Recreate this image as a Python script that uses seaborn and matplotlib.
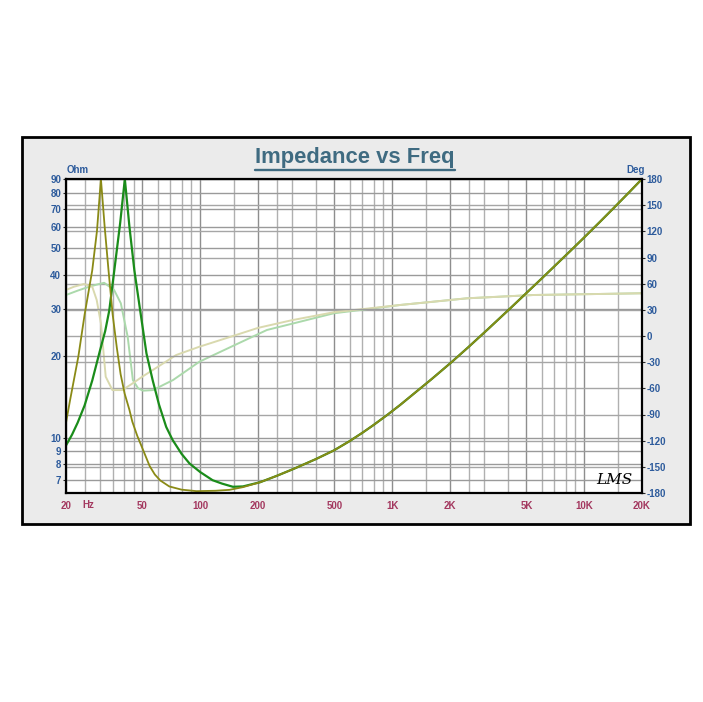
import matplotlib
matplotlib.use('Agg')
import matplotlib.pyplot as plt
import seaborn as sns
import pandas as pd
from matplotlib.patches import Rectangle
from matplotlib.lines import Line2D
from matplotlib.ticker import FixedLocator, NullFormatter, NullLocator

# ---------------- data ----------------
# shared high-frequency rise of both impedance curves
freq_hi = [205, 250, 306, 400, 497, 600, 700, 800, 946, 1100, 1306, 1600, 2029, 2500, 3156, 4138,
           5000, 5961, 7000, 8500, 10000, 12000, 14100, 17000, 20000]
imp_hi = [6.88, 7.26, 7.70, 8.37, 9.01, 9.75, 10.47, 11.18, 12.20, 13.25, 14.64, 16.47, 19.0, 21.67,
          25.21, 30.15, 34.23, 38.51, 42.96, 49.02, 54.84, 62.30, 69.86, 79.93, 90.0]

freq_a = [20, 21, 23.2, 25, 27.4, 29.0, 30.4, 31.8, 33.3, 35.0, 36.8, 38.5, 40.4, 42.8, 44.3, 47, 49,
          54.5, 58, 62, 69, 80, 95.5, 120, 142, 167] + freq_hi
imp_a = [11.4, 13.8, 20, 28.5, 41.5, 58, 90, 60, 41.5, 28.5, 21.5, 17.2, 14.6, 12.7, 11.5, 10.2, 9.5,
         7.9, 7.35, 6.98, 6.64, 6.46, 6.38, 6.4, 6.45, 6.6] + imp_hi

freq_b = [20, 21.5, 23, 25, 27.4, 30, 32, 33.6, 35.7, 38.3, 40.5, 42.8, 45.4, 49, 52.5, 56.6, 61, 66.5,
          71.8, 80, 87.9, 100, 116, 130, 148, 167] + freq_hi
imp_b = [9.4, 10.3, 11.4, 13.2, 16.3, 20.9, 24.8, 29.5, 41.5, 62, 90, 60, 41.5, 28.6, 20.5, 16.3, 13.3,
         11.0, 9.85, 8.75, 8.07, 7.5, 7.0, 6.8, 6.62, 6.64] + imp_hi

freq_pa = [20, 22, 24.8, 27.4, 28.9, 30.4, 32.2, 34.9, 39.3, 44, 49.9, 60, 75, 99, 112.6, 150, 200,
           300, 495, 700, 1105, 1600, 2447, 3500, 5436, 10000, 20000]
phase_a = [52.8, 56.5, 59.6, 56.5, 41.3, 14.5, -46.7, -62, -62, -55, -46.7, -35.5, -21.8, -12.3, -8.4,
           0.4, 9.3, 18.1, 27.2, 30.8, 35.6, 39.1, 43.2, 44.9, 47, 47.9, 49]

freq_pb = [20, 23, 26.4, 29, 31.6, 35.6, 38.6, 41.9, 44.6, 47.5, 50.4, 56.8, 63, 72.2, 99, 112.6, 150,
           222.6, 300, 495, 700, 1105, 1600, 2447, 3500, 5436, 10000, 20000]
phase_b = [47, 52, 56.5, 59, 61, 52.8, 37.5, -0.8, -50.5, -60, -62.7, -62, -57, -50.5, -29.5, -23.7,
           -10.8, 6.9, 14.0, 26, 30.1, 35.6, 39.1, 43.2, 44.9, 47, 47.9, 49]

x_major = [20, 50, 100, 200, 500, 1000, 2000, 5000, 10000, 20000]
x_labels = ['20', '50', '100', '200', '500', '1K', '2K', '5K', '10K', '20K']
x_minor = [25, 30, 35, 40, 45, 60, 70, 80, 90, 150, 250, 300, 400, 600, 700, 800, 900,
           1500, 2500, 3000, 4000, 6000, 7000, 8000, 9000, 15000]
imp_ticks = [7, 8, 9, 10, 20, 30, 40, 50, 60, 70, 80, 90]
phase_ticks = [-180, -150, -120, -90, -60, -30, 0, 30, 60, 90, 120, 150, 180]

# ---------------- style ----------------
sns.set_style('white')
plt.rcParams['font.family'] = ['Liberation Sans', 'DejaVu Sans']

W, H = 703, 702
fig = plt.figure(figsize=(W / 100, H / 100), dpi=100)
fig.patch.set_facecolor('white')

frame = Rectangle((22 / W, 1 - 524 / H), 668 / W, 387 / H, transform=fig.transFigure,
                  facecolor='#ebebeb', edgecolor='black', lw=2.0, zorder=-5)
fig.add_artist(frame)

rect = [66 / W, 1 - 493 / H, (642 - 66) / W, (493 - 179) / H]
ax = fig.add_axes(rect)
ax2 = ax.twinx()
ax.set_zorder(2)
ax.patch.set_visible(False)
ax2.set_zorder(1)
ax2.patch.set_visible(True)
ax2.patch.set_facecolor('white')

ax.set_xscale('log')
ax.set_yscale('log')

pb_df = pd.DataFrame({'freq': freq_pb, 'val': phase_b})
pa_df = pd.DataFrame({'freq': freq_pa, 'val': phase_a})
sns.lineplot(data=pb_df, x='freq', y='val', color='#abd9ab', estimator=None, sort=False,
             lw=1.4, legend=False, ax=ax2)
sns.lineplot(data=pa_df, x='freq', y='val', color='#d9d9ae', estimator=None, sort=False,
             lw=1.4, legend=False, ax=ax2)

green_df = pd.DataFrame({'freq': freq_b, 'val': imp_b})
olive_df = pd.DataFrame({'freq': freq_a, 'val': imp_a})
sns.lineplot(data=green_df, x='freq', y='val', color='#1a8c1a', estimator=None, sort=False,
             lw=1.6, legend=False, ax=ax)
sns.lineplot(data=olive_df, x='freq', y='val', color='#8a8a16', estimator=None, sort=False,
             lw=1.3, legend=False, ax=ax)

ax.set_xlim(20, 20000)
ax.set_ylim(6.28, 90)
ax2.set_ylim(-180, 180)

# x ticks / grid
ax.xaxis.set_major_locator(FixedLocator(x_major))
ax.set_xticklabels(x_labels)
ax.xaxis.set_minor_locator(FixedLocator(x_minor))
ax.xaxis.set_minor_formatter(NullFormatter())
ax.tick_params(axis='x', which='both', length=0, pad=6, labelsize=7, labelcolor='#a3385f')
for lab in ax.get_xticklabels():
    lab.set_fontweight('bold')

ax2.xaxis.set_visible(True)
ax2.tick_params(axis='x', which='both', length=0, labelbottom=False, labeltop=False)
ax2.grid(axis='x', which='major', color='#8e8e8e', lw=1.0)
ax2.grid(axis='x', which='minor', color='#b0b0b0', lw=1.0)
ax2.grid(axis='y', which='major', color='#a6a6a6', lw=1.0)

# impedance y axis
ax.yaxis.set_major_locator(FixedLocator(imp_ticks))
ax.yaxis.set_minor_locator(NullLocator())
ax.set_yticklabels([str(v) for v in imp_ticks])
ax.tick_params(axis='y', which='major', length=2, pad=1.5, labelsize=7, labelcolor='#2d5b9c')
ax.grid(axis='y', which='major', color='#9a9a9a', lw=1.0)
ax.grid(axis='x', visible=False)
for lab in ax.get_yticklabels():
    lab.set_fontweight('bold')

# phase y axis
ax2.set_yticks(phase_ticks)
ax2.set_yticklabels([str(v) for v in phase_ticks])
ax2.tick_params(axis='y', length=2, pad=1.5, labelsize=7, labelcolor='#2d5b9c')
for lab in ax2.get_yticklabels():
    lab.set_fontweight('bold')

ax.set_xlabel('')
ax.set_ylabel('')
ax2.set_xlabel('')
ax2.set_ylabel('')

for s in ax.spines.values():
    s.set_color('black')
    s.set_linewidth(1.6)
    s.set_visible(True)
for s in ax2.spines.values():
    s.set_visible(False)

# unit labels
ax.text(12 / 576, 1.012, 'Ohm', transform=ax.transAxes, fontsize=7, fontweight='bold',
        color='#2d5b9c', ha='center', va='bottom')
ax.text(570 / 576, 1.012, 'Deg', transform=ax.transAxes, fontsize=7, fontweight='bold',
        color='#2d5b9c', ha='center', va='bottom')
ax.text(22 / 576, -12 / 314, 'Hz', transform=ax.transAxes, fontsize=7, fontweight='bold',
        color='#a3385f', ha='center', va='center')
ax.text(0.952, 0.018, 'LMS', transform=ax.transAxes, fontsize=11, style='italic',
        family='DejaVu Serif', color='black', ha='center', va='bottom', zorder=6)

# title with underline
title = fig.text(355 / W, 1 - 158 / H, 'Impedance vs Freq', ha='center', va='center',
                 fontsize=15.8, fontweight='bold', color='#3f6b81')
fig.canvas.draw()
bb = title.get_window_extent(renderer=fig.canvas.get_renderer())
bbf = bb.transformed(fig.transFigure.inverted())
fig.add_artist(Line2D([bbf.x0, bbf.x1], [1 - 169.5 / H, 1 - 169.5 / H], transform=fig.transFigure,
                      color='#3f6b81', lw=1.7))

fig.savefig('out.png', dpi=100, facecolor='white')
